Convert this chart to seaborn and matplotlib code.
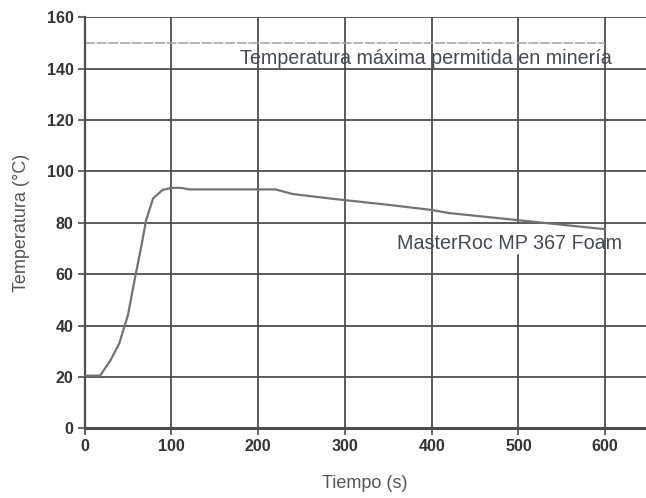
import matplotlib
matplotlib.use("Agg")
import matplotlib.pyplot as plt
import seaborn as sns
import pandas as pd

# Data
tiempo = [0, 18, 30, 40, 50, 59, 65, 71, 79, 90, 100, 111, 121, 160, 220, 240, 282, 350, 400, 420, 500, 600]
temperatura = [20.5, 20.5, 26.5, 33, 44, 60, 70, 81, 89.5, 92.8, 93.6, 93.6, 93, 93, 93, 91.2, 89.5, 87.0, 85.0, 83.8, 81.0, 77.5]
x_ticks = [0, 100, 200, 300, 400, 500, 600]
y_ticks = [0, 20, 40, 60, 80, 100, 120, 140, 160]
limite_mineria = 150
serie_label = "MasterRoc MP 367 Foam"
limite_label = "Temperatura máxima permitida en minería"

df = pd.DataFrame({"Tiempo (s)": tiempo, "Temperatura (°C)": temperatura})

sns.set_theme(style="white")
plt.rcParams["font.family"] = ["Liberation Sans", "DejaVu Sans"]

fig = plt.figure(figsize=(6.46, 4.98), dpi=100)
ax = fig.add_axes([84.5 / 646, 1 - 428.3 / 498, 1 - 84.5 / 646, (428.3 - 17.3) / 498])

grid_color = "#4d4d4d"
# horizontal grid lines
for y in y_ticks[1:]:
    ax.axhline(y, color=grid_color, lw=1.3, zorder=1)
# vertical grid lines (500 is interrupted by the label)
for x in x_ticks[1:]:
    if x == 500:
        ax.plot([x, x], [0, 67.5], color=grid_color, lw=1.3, zorder=1)
        ax.plot([x, x], [80, 160], color=grid_color, lw=1.3, zorder=1)
    else:
        ax.plot([x, x], [0, 160], color=grid_color, lw=1.3, zorder=1)

# limit line
ax.plot([0, 600], [limite_mineria, limite_mineria], color="#a8a8a8", lw=1.2,
        linestyle=(0, (6, 1)), zorder=2)

sns.lineplot(data=df, x="Tiempo (s)", y="Temperatura (°C)", ax=ax,
             color="#727272", lw=1.6, zorder=3)

ax.text(393, 144.0, limite_label, ha="center", va="center", fontsize=14.2,
        color="#454a52", zorder=4)
ax.text(490, 71.8, serie_label, ha="center", va="center", fontsize=14.2,
        color="#454a52", zorder=4)

ax.set_xlim(0, 647)
ax.set_ylim(0, 160)
ax.set_xticks(x_ticks)
ax.set_yticks(y_ticks)
ax.tick_params(axis="both", which="both", bottom=True, left=True, length=5,
               width=1.2, color=grid_color, labelsize=11.5, labelcolor="#333333", pad=3)
for lab in ax.get_xticklabels() + ax.get_yticklabels():
    lab.set_fontweight("bold")

for s in ["top", "right"]:
    ax.spines[s].set_visible(False)
ax.spines["left"].set_color(grid_color)
ax.spines["left"].set_linewidth(1.6)
ax.spines["bottom"].set_color(grid_color)
ax.spines["bottom"].set_linewidth(2.2)

ax.set_xlabel("Tiempo (s)", fontsize=13, color="#555555", labelpad=15)
ax.set_ylabel("Temperatura (°C)", fontsize=13, color="#555555", labelpad=12)

fig.savefig("out.png", dpi=100)
